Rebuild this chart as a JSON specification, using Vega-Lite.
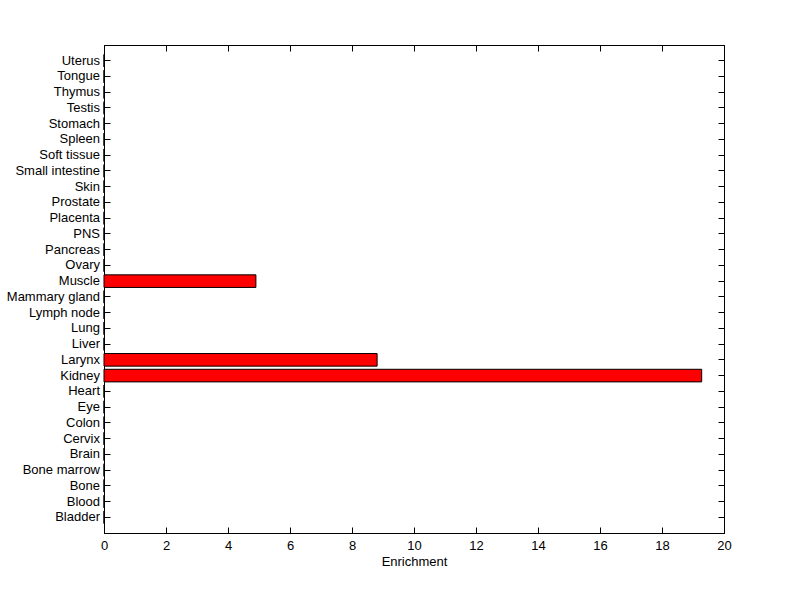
{
  "$schema": "https://vega.github.io/schema/vega-lite/v6.json",
  "autosize": "none",
  "padding": {"left": 104, "top": 45, "right": 76, "bottom": 66},
  "width": 620,
  "height": 488,
  "background": "white",
  "config": {
    "view": {"stroke": "black", "strokeWidth": 1},
    "axis": {
      "labelFont": "Liberation Sans",
      "labelFontSize": 13,
      "labelColor": "black",
      "titleFont": "Liberation Sans",
      "titleFontSize": 13,
      "titleFontWeight": "normal",
      "titleColor": "black",
      "domainColor": "black",
      "tickColor": "black",
      "grid": false
    }
  },
  "data": {
    "values": [
      {"tissue": "Bladder", "enrichment": 0},
      {"tissue": "Blood", "enrichment": 0},
      {"tissue": "Bone", "enrichment": 0},
      {"tissue": "Bone marrow", "enrichment": 0},
      {"tissue": "Brain", "enrichment": 0},
      {"tissue": "Cervix", "enrichment": 0},
      {"tissue": "Colon", "enrichment": 0},
      {"tissue": "Eye", "enrichment": 0},
      {"tissue": "Heart", "enrichment": 0},
      {"tissue": "Kidney", "enrichment": 19.28},
      {"tissue": "Larynx", "enrichment": 8.81},
      {"tissue": "Liver", "enrichment": 0},
      {"tissue": "Lung", "enrichment": 0},
      {"tissue": "Lymph node", "enrichment": 0},
      {"tissue": "Mammary gland", "enrichment": 0},
      {"tissue": "Muscle", "enrichment": 4.9},
      {"tissue": "Ovary", "enrichment": 0},
      {"tissue": "Pancreas", "enrichment": 0},
      {"tissue": "PNS", "enrichment": 0},
      {"tissue": "Placenta", "enrichment": 0},
      {"tissue": "Prostate", "enrichment": 0},
      {"tissue": "Skin", "enrichment": 0},
      {"tissue": "Small intestine", "enrichment": 0},
      {"tissue": "Soft tissue", "enrichment": 0},
      {"tissue": "Spleen", "enrichment": 0},
      {"tissue": "Stomach", "enrichment": 0},
      {"tissue": "Testis", "enrichment": 0},
      {"tissue": "Thymus", "enrichment": 0},
      {"tissue": "Tongue", "enrichment": 0},
      {"tissue": "Uterus", "enrichment": 0}
    ]
  },
  "resolve": {"axis": {"x": "independent", "y": "independent"}},
  "layer": [
    {
      "mark": {"type": "bar", "fill": "#ff0000", "stroke": "black", "strokeWidth": 1},
      "encoding": {
        "y": {
          "field": "tissue", "type": "nominal",
          "sort": ["Uterus", "Tongue", "Thymus", "Testis", "Stomach", "Spleen", "Soft tissue", "Small intestine", "Skin", "Prostate", "Placenta", "PNS", "Pancreas", "Ovary", "Muscle", "Mammary gland", "Lymph node", "Lung", "Liver", "Larynx", "Kidney", "Heart", "Eye", "Colon", "Cervix", "Brain", "Bone marrow", "Bone", "Blood", "Bladder"],
          "scale": {"paddingInner": 0.2, "paddingOuter": 0.6},
          "axis": {"orient": "left", "title": null, "tickSize": -6, "labelPadding": 10.5, "domain": true}
        },
        "x": {
          "field": "enrichment", "type": "quantitative",
          "scale": {"domain": [0, 20], "nice": false, "zero": true},
          "axis": {"orient": "bottom", "title": "Enrichment", "values": [0, 2, 4, 6, 8, 10, 12, 14, 16, 18, 20], "tickSize": -6, "labelPadding": 12, "titlePadding": 3, "labelFlush": false}
        }
      }
    },
    {
      "mark": {"type": "bar", "opacity": 0},
      "encoding": {
        "y": {
          "field": "tissue", "type": "nominal",
          "sort": ["Uterus", "Tongue", "Thymus", "Testis", "Stomach", "Spleen", "Soft tissue", "Small intestine", "Skin", "Prostate", "Placenta", "PNS", "Pancreas", "Ovary", "Muscle", "Mammary gland", "Lymph node", "Lung", "Liver", "Larynx", "Kidney", "Heart", "Eye", "Colon", "Cervix", "Brain", "Bone marrow", "Bone", "Blood", "Bladder"],
          "axis": {"orient": "right", "title": null, "tickSize": -6, "labels": false}
        },
        "x": {
          "field": "enrichment", "type": "quantitative",
          "axis": {"orient": "top", "title": null, "values": [0, 2, 4, 6, 8, 10, 12, 14, 16, 18, 20], "tickSize": -6, "labels": false}
        }
      }
    }
  ]
}
